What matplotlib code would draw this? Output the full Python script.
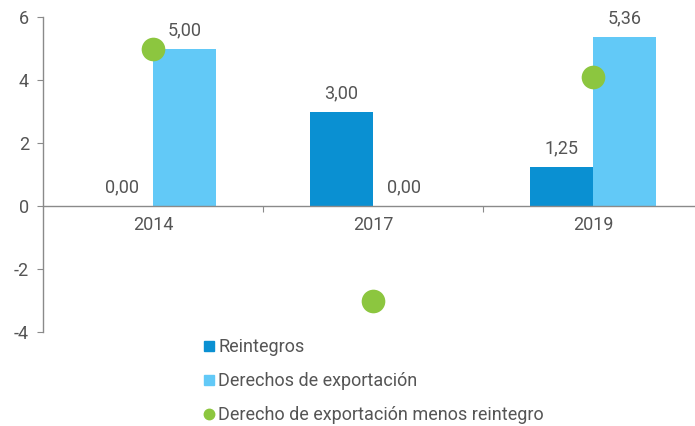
import matplotlib
matplotlib.use('Agg')
import numpy as np
import matplotlib.pyplot as plt
from matplotlib.lines import Line2D

years = ["2014", "2017", "2019"]
reintegros = [0.00, 3.00, 1.25]
derechos = [5.00, 0.00, 5.36]
neto = [5.00, -3.00, 4.11]

labels = ["Reintegros", "Derechos de exportación",
          "Derecho de exportación menos reintegro"]

C_DARK = '#0a90d2'
C_LIGHT = '#62c9f7'
C_GREEN = '#8cc63f'
C_TEXT = '#555555'
C_AXIS = '#8a8a8a'

plt.rcParams['font.family'] = ['Roboto', 'DejaVu Sans']
plt.rcParams['axes.unicode_minus'] = False

fig = plt.figure(figsize=(6.95, 4.26), dpi=100)
ax = fig.add_axes([43/695, 1-332/426, (695-43)/695, (332-17)/426])

x = np.arange(len(years))
bw = 0.286
ax.bar(x - bw/2, reintegros, bw, color=C_DARK, zorder=2)
ax.bar(x + bw/2, derechos, bw, color=C_LIGHT, zorder=2)
ax.scatter(x, neto, s=290, color=C_GREEN, zorder=3, linewidths=0)

def fmt(v):
    return f"{v:.2f}".replace('.', ',')

for i in range(len(years)):
    ax.text(x[i] - bw/2, reintegros[i] + 0.3, fmt(reintegros[i]),
            ha='center', va='bottom', fontsize=13, color=C_TEXT)
    ax.text(x[i] + bw/2, derechos[i] + 0.3, fmt(derechos[i]),
            ha='center', va='bottom', fontsize=13, color=C_TEXT)

ax.set_ylim(-4, 6)
ax.set_yticks([-4, -2, 0, 2, 4, 6])
ax.set_xlim(-0.5, 2.5 - 8/220)

ax.spines['top'].set_visible(False)
ax.spines['right'].set_visible(False)
ax.spines['bottom'].set_position(('data', 0))
for s in ['left', 'bottom']:
    ax.spines[s].set_color(C_AXIS)
    ax.spines[s].set_linewidth(1)

ax.set_xticks([0.5, 1.5])
ax.set_xticklabels([])
ax.set_xticks(x, minor=True)
ax.set_xticklabels(years, minor=True)
ax.tick_params(axis='x', which='major', length=4, color=C_AXIS, direction='out')
ax.tick_params(axis='x', which='minor', length=0, pad=7, labelsize=13, labelcolor=C_TEXT)
ax.tick_params(axis='y', length=4, color=C_AXIS, labelsize=13, labelcolor=C_TEXT, pad=6)

handles = [
    Line2D([], [], marker='s', ls='', color=C_DARK, markersize=7),
    Line2D([], [], marker='s', ls='', color=C_LIGHT, markersize=7),
    Line2D([], [], marker='o', ls='', color=C_GREEN, markersize=7.5),
]
leg = fig.legend(handles, labels, loc='upper left',
                 bbox_to_anchor=(204/695, 1-338/426), frameon=False,
                 fontsize=13, labelspacing=0.9, handlelength=0.55,
                 handletextpad=0.25, borderpad=0, borderaxespad=0)
for t in leg.get_texts():
    t.set_color(C_TEXT)

fig.savefig('out.png', dpi=100)
